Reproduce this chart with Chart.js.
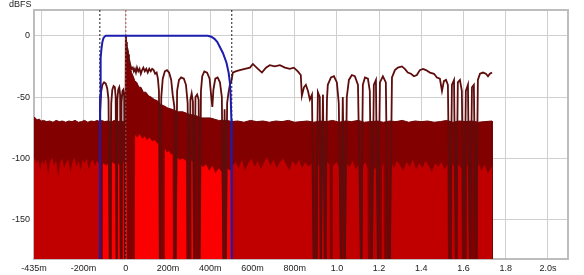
<!DOCTYPE html>
<html>
<head>
<meta charset="utf-8">
<script src="https://cdn.jsdelivr.net/npm/chart.js@4"></script>
<style>
  html, body { margin: 0; padding: 0; background: #fff; }
  #wrap { width: 584px; height: 275px; position: relative; }
</style>
</head>
<body>
<div id="wrap"><canvas id="irChart"></canvas></div>
<script>
// time in seconds, level in dBFS

// x ticks: the first one sits on the left edge, -400m is a bare gridline
const xTickVals = [-0.435, -0.4, -0.2, 0, 0.2, 0.4, 0.6, 0.8, 1.0, 1.2, 1.4, 1.6, 1.8, 2.0];
const xTickLabels = ['-435m', '', '-200m', '0', '200m', '400m', '600m', '800m', '1.0', '1.2', '1.4', '1.6', '1.8', '2.0s'];
const yTickVals = [-150, -100, -50, 0];

// window markers: start, reference (peak), end
const markerTimes = [-0.123, 0, 0.502];

// IR window (blue)
const windowCurve = [
    [-0.123, -182], [-0.1225, -80], [-0.122, -50], [-0.1205, -30], [-0.118, -18], [-0.115, -10],
    [-0.111, -5], [-0.106, -2], [-0.100, -0.6], [-0.094, 0], [0.388, 0], [0.405, -0.8],
    [0.420, -2.5], [0.433, -5], [0.445, -9], [0.460, -14], [0.477, -22], [0.487, -30],
    [0.493, -38], [0.497, -50], [0.500, -68], [0.5015, -100], [0.502, -182]
];

// main dB trace (dark line), nulls drop to the bottom
const impulseLine = [
    [-0.123, -182], [-0.121, -62], [-0.117, -46], [-0.111, -40], [-0.103, -38], [-0.095, -39],
    [-0.088, -43], [-0.082, -52], [-0.076, -182],
    [-0.069, -55], [-0.064, -44], [-0.058, -41], [-0.052, -42], [-0.048, -50], [-0.044, -182],
    [-0.040, -52], [-0.036, -44], [-0.031, -42], [-0.027, -48], [-0.024, -182],
    [-0.020, -54], [-0.016, -45], [-0.012, -44], [-0.008, -49], [-0.004, -182],
    [0.0, 0], [0.002, -5], [0.005, -9], [0.008, -11], [0.011, -15], [0.015, -19], [0.019, -22],
    [0.023, -25], [0.028, -27], [0.033, -26], [0.038, -29], [0.043, -27], [0.048, -30], [0.053, -26],
    [0.059, -29], [0.065, -27], [0.071, -31], [0.077, -28], [0.083, -26], [0.090, -29], [0.097, -27],
    [0.104, -30], [0.111, -27], [0.118, -29], [0.125, -27], [0.132, -28], [0.139, -31], [0.146, -30],
    [0.152, -35], [0.157, -45], [0.161, -182], [0.168, -50], [0.175, -35], [0.185, -29], [0.195, -28],
    [0.205, -30], [0.215, -36], [0.222, -48], [0.230, -58], [0.236, -182], [0.243, -45], [0.252, -36],
    [0.262, -34], [0.275, -35], [0.285, -40], [0.293, -55], [0.300, -182], [0.306, -52], [0.312, -47],
    [0.318, -54], [0.323, -182], [0.330, -50], [0.338, -48], [0.345, -52], [0.350, -182], [0.356, -45],
    [0.362, -33], [0.372, -29], [0.385, -30], [0.397, -35], [0.405, -50], [0.410, -58], [0.415, -44],
    [0.424, -35], [0.435, -34], [0.446, -38], [0.455, -50], [0.462, -182], [0.468, -60], [0.474, -182],
    [0.480, -55], [0.486, -47], [0.493, -40], [0.500, -37], [0.507, -30], [0.520, -29], [0.540, -28],
    [0.564, -27], [0.588, -26], [0.602, -23], [0.626, -27], [0.645, -30], [0.664, -26], [0.682, -24],
    [0.706, -25], [0.730, -24], [0.754, -26], [0.777, -27], [0.796, -26], [0.815, -29], [0.829, -32],
    [0.834, -49], [0.844, -42], [0.853, -40], [0.863, -45], [0.872, -52], [0.882, -48], [0.891, -182],
    [0.900, -182], [0.910, -46], [0.919, -50], [0.924, -182], [0.934, -48], [0.943, -182], [0.953, -52],
    [0.957, -40], [0.972, -34], [0.986, -33], [1.000, -38], [1.009, -55], [1.019, -182], [1.028, -50],
    [1.038, -182], [1.047, -50], [1.057, -36], [1.071, -32], [1.085, -33], [1.100, -40], [1.114, -182],
    [1.123, -40], [1.133, -34], [1.147, -35], [1.156, -45], [1.166, -182], [1.175, -40], [1.185, -36],
    [1.194, -182], [1.204, -38], [1.218, -33], [1.232, -38], [1.242, -182], [1.251, -182], [1.261, -34],
    [1.275, -28], [1.289, -26], [1.308, -25], [1.322, -27], [1.336, -30], [1.351, -31], [1.365, -33],
    [1.379, -32], [1.393, -28], [1.408, -27], [1.422, -28], [1.441, -30], [1.460, -31], [1.474, -34],
    [1.488, -35], [1.498, -45], [1.507, -37], [1.517, -36], [1.526, -40], [1.536, -182], [1.545, -40],
    [1.555, -36], [1.564, -182], [1.573, -38], [1.583, -36], [1.592, -45], [1.602, -182], [1.611, -45],
    [1.621, -40], [1.630, -182], [1.640, -42], [1.649, -40], [1.659, -182], [1.668, -36], [1.678, -31],
    [1.692, -30], [1.706, -31], [1.716, -33], [1.725, -31], [1.735, -30]
];

// top of the dark band (noise floor + decay wedge after the peak)
const noiseTop = [
    [-0.435, -66], [-0.43, -67], [-0.42, -68.5], [-0.41, -68], [-0.40, -69.5], [-0.39, -69],
    [-0.375, -70], [-0.36, -69.5], [-0.345, -70.5], [-0.33, -69], [-0.315, -70], [-0.30, -69.5],
    [-0.285, -70.5], [-0.27, -69.5], [-0.255, -70], [-0.24, -69], [-0.225, -70.5], [-0.21, -70],
    [-0.195, -69], [-0.18, -70.5], [-0.165, -69.5], [-0.15, -70], [-0.135, -69], [-0.124, -70],
    [-0.115, -69], [-0.1, -70], [-0.085, -69.5], [-0.07, -70.5], [-0.055, -69], [-0.04, -70],
    [-0.025, -69.5], [-0.01, -70], [-0.002, -69],
    [0.0, 0], [0.003, -6], [0.006, -12], [0.010, -16], [0.015, -22], [0.020, -25], [0.027, -30],
    [0.035, -33], [0.043, -37], [0.052, -38], [0.062, -42], [0.072, -42], [0.083, -46], [0.095, -46],
    [0.108, -49], [0.12, -50], [0.135, -52], [0.15, -53], [0.165, -56], [0.18, -57], [0.2, -59],
    [0.22, -60], [0.245, -62], [0.27, -62], [0.3, -64], [0.33, -65], [0.36, -67], [0.4, -67],
    [0.44, -69], [0.48, -69], [0.502, -70],
    [0.53, -69.5], [0.56, -70.5], [0.59, -69], [0.62, -70], [0.65, -69.5], [0.68, -70.5], [0.71, -69.5],
    [0.74, -70], [0.77, -69], [0.80, -70.5], [0.83, -70], [0.86, -69.5], [0.89, -70.5], [0.92, -69.5],
    [0.95, -70], [0.98, -69], [1.01, -70.5], [1.04, -69.5], [1.07, -70], [1.10, -69], [1.13, -70.5],
    [1.16, -70], [1.19, -69.5], [1.22, -70.5], [1.25, -69.5], [1.28, -70], [1.31, -69], [1.34, -70.5],
    [1.37, -69.5], [1.40, -70], [1.43, -69.5], [1.46, -70.5], [1.49, -70], [1.52, -69], [1.55, -70.5],
    [1.58, -69.5], [1.61, -70], [1.64, -69.5], [1.67, -70.5], [1.70, -70], [1.735, -69.5], [1.736, -182]
];

// bottom edge of the dark band; the gaps reaching -182 are the dark stripes
const noiseLow = [
    [-0.435, -99], [-0.425, -104], [-0.415, -101], [-0.405, -110], [-0.398, -102], [-0.388, -105],
    [-0.378, -100], [-0.368, -113], [-0.360, -103], [-0.350, -99], [-0.340, -106], [-0.330, -102],
    [-0.320, -115], [-0.312, -104], [-0.302, -100], [-0.292, -108], [-0.282, -103], [-0.272, -101],
    [-0.262, -112], [-0.254, -104], [-0.244, -99], [-0.234, -107], [-0.224, -102], [-0.214, -110],
    [-0.205, -101], [-0.195, -104], [-0.185, -100], [-0.175, -109], [-0.166, -103], [-0.156, -101],
    [-0.146, -106], [-0.136, -102], [-0.127, -104],
    [-0.125, -182], [-0.109, -182], [-0.108, -104], [-0.090, -106], [-0.082, -103],
    [-0.080, -182], [-0.067, -182], [-0.066, -103], [-0.048, -105],
    [-0.047, -182], [-0.038, -182], [-0.037, -104], [-0.029, -106],
    [-0.028, -182], [-0.014, -182], [-0.013, -103], [0.004, -104],
    [0.005, -182], [0.043, -182], [0.044, -81], [0.055, -83], [0.065, -80], [0.078, -84], [0.09, -82],
    [0.1, -85], [0.112, -83], [0.125, -86], [0.138, -85], [0.150, -88], [0.158, -87],
    [0.160, -182], [0.184, -182], [0.185, -92], [0.195, -95], [0.205, -94], [0.215, -97], [0.222, -96],
    [0.223, -182], [0.240, -182], [0.241, -99], [0.255, -101], [0.270, -100], [0.285, -102],
    [0.287, -182], [0.310, -182], [0.311, -102], [0.325, -103],
    [0.327, -182], [0.350, -182], [0.351, -104], [0.365, -107], [0.38, -105], [0.395, -110],
    [0.41, -106], [0.425, -112], [0.44, -108], [0.455, -111],
    [0.460, -182], [0.479, -182], [0.480, -108], [0.495, -110], [0.502, -107],
    [0.52, -103], [0.535, -108], [0.55, -101], [0.565, -110], [0.58, -104], [0.595, -100], [0.61, -107],
    [0.625, -102], [0.64, -109], [0.655, -103], [0.67, -99], [0.685, -106], [0.70, -101], [0.715, -108],
    [0.73, -103], [0.745, -100], [0.76, -105], [0.775, -110], [0.79, -102], [0.805, -106], [0.82, -101],
    [0.835, -108], [0.85, -103], [0.865, -107], [0.88, -104],
    [0.885, -182], [0.910, -182], [0.911, -105], [0.918, -107],
    [0.919, -182], [0.929, -182], [0.930, -104], [0.941, -106],
    [0.942, -182], [0.953, -182], [0.954, -103], [0.965, -105],
    [0.967, -182], [0.980, -182], [0.981, -106], [1.0, -103], [1.012, -108],
    [1.014, -182], [1.043, -182], [1.044, -104], [1.06, -107], [1.075, -102], [1.09, -109], [1.107, -104],
    [1.109, -182], [1.123, -182], [1.124, -106], [1.135, -103], [1.145, -108],
    [1.147, -182], [1.166, -182], [1.167, -104], [1.18, -109], [1.192, -105],
    [1.194, -182], [1.213, -182], [1.214, -107], [1.221, -104],
    [1.223, -182], [1.256, -182], [1.257, -103], [1.27, -108], [1.285, -102], [1.30, -106], [1.315, -110],
    [1.33, -103], [1.345, -107], [1.36, -101], [1.375, -109], [1.39, -104], [1.405, -108], [1.42, -102],
    [1.435, -106], [1.45, -111], [1.465, -104], [1.48, -107], [1.495, -103], [1.51, -109], [1.524, -105],
    [1.526, -182], [1.545, -182], [1.546, -104], [1.557, -107],
    [1.559, -182], [1.573, -182], [1.574, -105], [1.590, -108],
    [1.592, -182], [1.616, -182], [1.617, -106], [1.625, -104],
    [1.626, -182], [1.654, -182], [1.655, -103], [1.658, -105],
    [1.659, -182], [1.668, -182], [1.669, -104], [1.685, -110], [1.70, -105], [1.715, -112],
    [1.73, -108], [1.735, -106], [1.736, -182]
];

const X_MIN = -0.435, X_MAX = 2.095;
const Y_MIN = -182, Y_MAX = 21;

const toXY = arr => arr.map(p => ({ x: p[0], y: p[1] }));
const inWindow = t => t >= markerTimes[0] - 0.003 && t < markerTimes[2];

const markerColors = ['#1a1a1a', '#b04848', '#1a1a1a'];
const markerSets = markerTimes.map((t, i) => ({
    data: [{ x: t, y: Y_MAX }, { x: t, y: Y_MIN }],
    borderColor: markerColors[i],
    borderWidth: 1,
    borderDash: [2, 2],
    pointRadius: 0,
    fill: false
}));

// plot frame + dBFS label
const framePlugin = {
    id: 'frame',
    beforeDatasetsDraw(chart) {
        const { ctx, chartArea: a } = chart;
        ctx.save();
        ctx.strokeStyle = '#bdbdbd';
        ctx.lineWidth = 2;
        ctx.strokeRect(a.left, a.top, a.right - a.left, a.bottom - a.top);
        ctx.restore();
    },
    afterDraw(chart) {
        const ctx = chart.ctx;
        ctx.save();
        ctx.fillStyle = '#222';
        ctx.font = '9px "Liberation Sans", Arial, sans-serif';
        ctx.textBaseline = 'alphabetic';
        ctx.fillText('dBFS', 9, 7);
        ctx.restore();
    }
};

document.addEventListener('DOMContentLoaded', () => {
    const canvas = document.getElementById('irChart');
    new Chart(canvas, {
        type: 'line',
        data: {
            datasets: [
                {
                    label: 'Window',
                    data: toXY(windowCurve),
                    borderColor: '#1c1cae',
                    borderWidth: 2,
                    pointRadius: 0,
                    fill: false
                },
                ...markerSets,
                {
                    label: 'Impulse dB',
                    data: toXY(impulseLine),
                    borderColor: '#5e0c0c',
                    borderWidth: 1.8,
                    pointRadius: 0,
                    fill: false
                },
                {
                    label: 'Floor low',
                    data: toXY(noiseLow),
                    borderWidth: 0,
                    borderColor: 'rgba(0,0,0,0)',
                    backgroundColor: '#c00000',
                    pointRadius: 0,
                    fill: 'start',
                    segment: {
                        backgroundColor: c => inWindow(c.p0.parsed.x) ? '#fb0000' : '#c00000'
                    }
                },
                {
                    label: 'Floor top',
                    data: toXY(noiseTop),
                    borderColor: '#6e0000',
                    borderWidth: 1,
                    backgroundColor: '#820000',
                    pointRadius: 0,
                    fill: 'start'
                }
            ]
        },
        options: {
            responsive: true,
            maintainAspectRatio: false,
            animation: false,
            events: [],
            layout: { padding: { top: 10, right: 16, left: 0, bottom: 0 } },
            plugins: {
                legend: { display: false },
                tooltip: { enabled: false }
            },
            scales: {
                x: {
                    type: 'linear',
                    min: X_MIN,
                    max: X_MAX,
                    afterBuildTicks: s => { s.ticks = xTickVals.map(v => ({ value: v })); },
                    afterFit: s => { s.height = 16; },
                    grid: { color: '#cfcfcf', lineWidth: 1, drawTicks: false },
                    border: { display: false },
                    ticks: {
                        autoSkip: false,
                        maxRotation: 0,
                        padding: 4,
                        color: '#222',
                        font: { family: '"Liberation Sans", Arial, sans-serif', size: 9 },
                        callback: (v, i) => xTickLabels[i]
                    }
                },
                y: {
                    type: 'linear',
                    min: Y_MIN,
                    max: Y_MAX,
                    afterBuildTicks: s => { s.ticks = yTickVals.map(v => ({ value: v })); },
                    afterFit: s => { s.width = 34; },
                    grid: { color: '#cfcfcf', lineWidth: 1, drawTicks: false },
                    border: { display: false },
                    ticks: {
                        padding: 4,
                        color: '#222',
                        font: { family: '"Liberation Sans", Arial, sans-serif', size: 9 },
                        callback: v => String(v)
                    }
                }
            }
        },
        plugins: [framePlugin]
    });
});
</script>
</body>
</html>
